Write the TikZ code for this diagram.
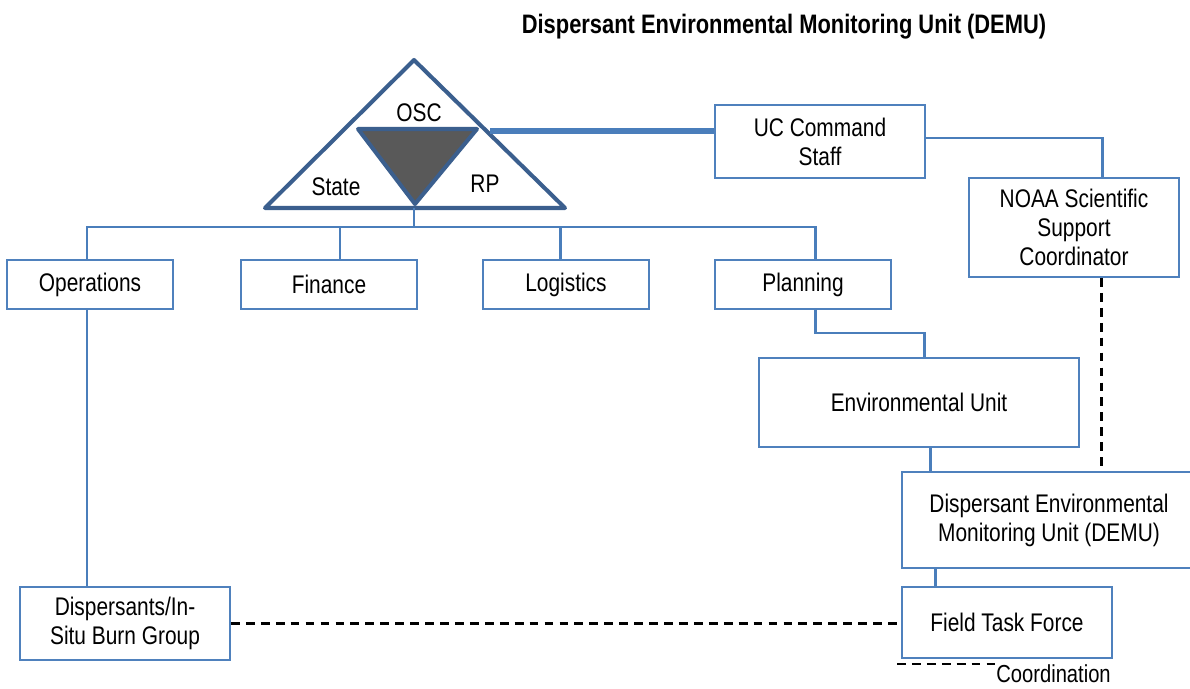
\documentclass[tikz,border=0pt]{standalone}
\usepackage{fontspec}
\setmainfont{Liberation Sans}[FakeStretch=0.82]
\usetikzlibrary{calc,positioning}
\definecolor{BBorder}{HTML}{4F81BD}
\definecolor{BLink}{HTML}{4A7EBB}
\definecolor{BDeep}{HTML}{3B5F8E}
\definecolor{GSlate}{HTML}{595959}
\tikzset{
    block/.style = {draw=BBorder, rectangle, line width=1.1pt, align=center,
        inner sep=0pt, font=\fontsize{14.5pt}{16.5pt}\selectfont},
    link/.style = {draw=BLink, line width=1.7pt},
    boldlink/.style = {draw=BLink, line width=3.4pt},
    coordline/.style = {draw=black, line width=1.7pt, dash pattern=on 5pt off 3.5pt},
    tri/.style = {draw=BDeep, line width=2.3pt, line join=round},
    trilabel/.style = {font=\fontsize{14.5pt}{16.5pt}\selectfont}
}
\begin{document}
\begin{tikzpicture}[x=0.02cm,y=-0.02cm]
    \useasboundingbox (0,0) rectangle (1190,689);
        \node [anchor=center,font=\fontsize{15.2pt}{17pt}\selectfont\bfseries] (title) at (784,27) {Dispersant Environmental Monitoring Unit (DEMU)};
    % command triangle
            \draw[tri,fill=white] (414,60) -- (565,208) -- (265,208) -- cycle;
            \draw[tri,fill=GSlate] (358,129) -- (477,129) -- (415,204) -- cycle;
            \node [trilabel,anchor=center] (osc) at (419,113) {OSC};
            \node [trilabel,anchor=center] (state) at (336,187) {State};
            \node [trilabel,anchor=center] (rp) at (485,184) {RP};
            \coordinate (base) at (414,208);
            \coordinate (edge) at (490,131);
    % boxes
        \node [block,minimum width=210*0.02cm,minimum height=73*0.02cm] (uc) at (820,141.5) {UC Command\\Staff};
        \node [block,minimum width=210*0.02cm,minimum height=99*0.02cm] (noaa) at (1074,227.5) {NOAA Scientific\\Support\\Coordinator};
        \node [block,minimum width=166*0.02cm,minimum height=49*0.02cm] (ops) at (90,284.5) {Operations};
        \node [block,minimum width=176*0.02cm,minimum height=49*0.02cm] (fin) at (329,284.5) {Finance};
        \node [block,minimum width=166*0.02cm,minimum height=49*0.02cm] (log) at (566,284.5) {Logistics};
        \node [block,minimum width=176*0.02cm,minimum height=49*0.02cm] (plan) at (803,284.5) {Planning};
        \node [block,minimum width=320*0.02cm,minimum height=89*0.02cm] (env) at (919,402.5) {Environmental Unit};
        \node [block,minimum width=294*0.02cm,minimum height=96*0.02cm] (demu) at (1049,520) {Dispersant Environmental\\Monitoring Unit (DEMU)};
        \node [block,minimum width=210*0.02cm,minimum height=71*0.02cm] (ftf) at (1007,622.5) {Field Task Force};
        \node [block,minimum width=210*0.02cm,minimum height=73*0.02cm] (disp) at (125,623.5) {Dispersants/In-\\Situ Burn Group};
    % connectors
            \coordinate (bus) at (414,227);
            \coordinate (d1) at (87,227);
            \coordinate (d2) at (340,227);
            \coordinate (d3) at (560,227);
            \coordinate (d4) at (815,227);
        \draw[boldlink] (edge) -- (edge -| uc.west);
        \draw[link] (base) -- (bus);
        \draw[link] (d1 |- ops.north) -- (d1) -- (d4) -- (d4 |- plan.north);
        \draw[link] (d2) -- (d2 |- fin.north);
        \draw[link] (d3) -- (d3 |- log.north);
        \draw[link] (uc.east |- 0,138) -| (noaa.north -| 1102,0);
        \draw[link] (d4 |- plan.south) -- (815,333) -| (env.north -| 924,0);
        \draw[link] (env.south -| 930,0) -- (demu.north -| 930,0);
        \draw[link] (demu.south -| 935,0) -- (ftf.north -| 935,0);
        \draw[link] (d1 |- ops.south) -- (d1 |- disp.north);
        \draw[coordline] (noaa.south -| 1101,0) -- (demu.north -| 1101,0);
        \draw[coordline] (disp.east) -- (disp.east -| ftf.west);
    % key
                \coordinate (key) at (897,664);
                \draw[coordline] (key) -- ++(98,0) coordinate (keyend);
                \node [anchor=north west,inner sep=0pt,font=\fontsize{14pt}{16pt}\selectfont] (coordination) at ($(keyend)+(1,0)$) {Coordination};
\end{tikzpicture}
\end{document}
